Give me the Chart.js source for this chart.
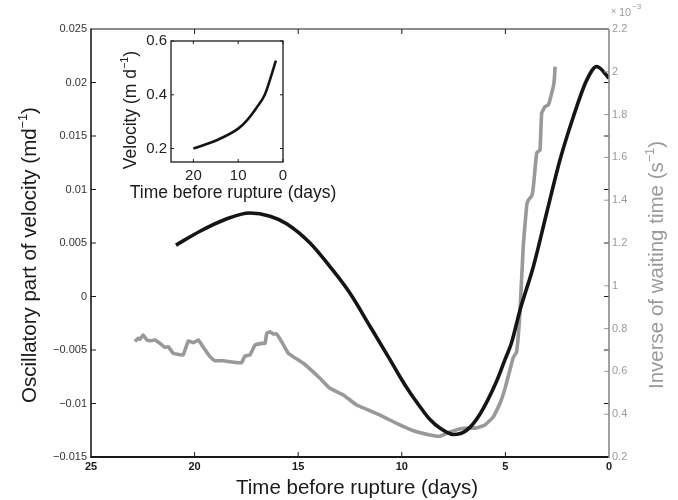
<!DOCTYPE html>
<html>
<head>
<meta charset="utf-8">
<script src="https://cdn.jsdelivr.net/npm/chart.js@4.4.1/dist/chart.umd.min.js"></script>
<style>
  html, body { margin: 0; padding: 0; background: #fff; }
  #wrap { position: relative; width: 678px; height: 500px; }
  #main { position: absolute; left: 0; top: 0; }
  #inset { position: absolute; left: 100px; top: 28px; }
</style>
</head>
<body>
<div id="wrap">
  <canvas id="main" width="678" height="500"></canvas>
  <canvas id="inset" width="250" height="182"></canvas>
</div>
<script>
// data (days before rupture, descending)
const blackDays = [20.9, 19.74, 18.53, 17.33, 16.36, 15.56, 14.43, 13.47, 12.5, 11.53, 10.57, 10.09, 9.6, 9.12, 8.64, 8.16, 7.51, 6.87, 6.23, 5.42, 5.02, 4.7, 4.3, 3.65, 3.01, 2.36, 1.72, 1.08, 0.59, 0.0];
const blackVals = [0.0048, 0.0061, 0.0072, 0.0078, 0.0075, 0.0068, 0.005, 0.0028, 0.0003, -0.0028, -0.0059, -0.0075, -0.009, -0.0103, -0.0115, -0.0123, -0.0129, -0.0125, -0.011, -0.0079, -0.0059, -0.0043, -0.0013, 0.0028, 0.0078, 0.0128, 0.0168, 0.0202, 0.0215, 0.0204];

// inverse of waiting time, x 10^-3 s^-1
const grayDays = [22.88, 22.72, 22.64, 22.48, 22.31, 22.15, 21.91, 21.67, 21.43, 21.27, 21.03, 20.7, 20.55, 20.3, 20.06, 19.82, 19.58, 19.26, 19.02, 18.61, 18.29, 17.97, 17.73, 17.57, 17.33, 17.08, 16.76, 16.6, 16.52, 16.36, 16.2, 16.04, 15.8, 15.48, 14.75, 13.95, 13.47, 12.82, 12.18, 11.05, 10.25, 9.44, 8.64, 8.16, 7.83, 7.51, 7.03, 6.39, 5.98, 5.58, 5.26, 5.02, 4.78, 4.62, 4.46, 4.3, 4.14, 3.97, 3.89, 3.73, 3.65, 3.49, 3.33, 3.25, 3.09, 2.93, 2.85, 2.69, 2.65, 2.6];
const grayVals = [0.74, 0.755, 0.75, 0.77, 0.747, 0.743, 0.747, 0.731, 0.713, 0.715, 0.685, 0.678, 0.677, 0.743, 0.734, 0.747, 0.713, 0.669, 0.65, 0.65, 0.645, 0.641, 0.641, 0.672, 0.677, 0.723, 0.731, 0.731, 0.778, 0.785, 0.775, 0.775, 0.739, 0.685, 0.638, 0.568, 0.521, 0.49, 0.443, 0.396, 0.357, 0.323, 0.303, 0.297, 0.311, 0.322, 0.334, 0.336, 0.35, 0.388, 0.451, 0.52, 0.607, 0.665, 0.69, 0.873, 1.183, 1.378, 1.4, 1.42, 1.463, 1.621, 1.635, 1.807, 1.837, 1.845, 1.868, 1.93, 1.95, 2.024];

// inset: velocity
const insetDays = [20, 14.8, 10, 8.1, 5.9, 4.07, 2.6, 1.6];
const insetVals = [0.2, 0.231, 0.274, 0.304, 0.352, 0.4, 0.472, 0.527];

const xTicks = [25, 20, 15, 10, 5, 0];
const leftTicks = [0.025, 0.02, 0.015, 0.01, 0.005, 0, -0.005, -0.01, -0.015];
const rightTicks = [2.2, 2, 1.8, 1.6, 1.4, 1.2, 1, 0.8, 0.6, 0.4, 0.2];
const insetXTicks = [20, 10, 0];
const insetYTicks = [0.2, 0.4, 0.6];

const FONT = "'Liberation Sans', Arial, Helvetica, sans-serif";
const GRAY = "#9a9a9a";
const INK = "#1a1a1a";

function pts(xs, ys) {
  return xs.map((x, i) => ({ x: x, y: ys[i] }));
}

function fmt(v) {
  const s = String(Number(Math.abs(v).toFixed(3)));
  return v < 0 ? "\u2212" + s : s;
}

// draw text made of normal and superscript parts, centred
function drawRich(ctx, parts, x, y, size, color, rotate) {
  ctx.save();
  ctx.translate(x, y);
  if (rotate) ctx.rotate(-Math.PI / 2);
  ctx.fillStyle = color;
  ctx.textBaseline = "alphabetic";
  let total = 0;
  parts.forEach(p => {
    ctx.font = (p.sup ? size * 0.62 : size) + "px " + FONT;
    p.w = ctx.measureText(p.t).width;
    total += p.w;
  });
  let cx = -total / 2;
  parts.forEach(p => {
    ctx.font = (p.sup ? size * 0.62 : size) + "px " + FONT;
    ctx.fillText(p.t, cx, p.sup ? size * 0.35 - size * 0.45 : size * 0.35);
    cx += p.w;
  });
  ctx.restore();
}

function line(ctx, x1, y1, x2, y2, color, w) {
  ctx.strokeStyle = color;
  ctx.lineWidth = w;
  ctx.beginPath();
  ctx.moveTo(x1, y1);
  ctx.lineTo(x2, y2);
  ctx.stroke();
}

// box, inward ticks and axis titles for the main chart
const mainDecor = {
  id: "mainDecor",
  afterDraw(chart) {
    const { ctx, chartArea: a, scales } = chart;
    ctx.save();
    xTicks.slice(1, -1).forEach(v => {
      const px = scales.x.getPixelForValue(v);
      line(ctx, px, a.bottom, px, a.bottom - 5, INK, 1);
      line(ctx, px, a.top, px, a.top + 5, INK, 1);
    });
    leftTicks.slice(1, -1).forEach(v => {
      const py = scales.y.getPixelForValue(v);
      line(ctx, a.left, py, a.left + 5, py, INK, 1);
      line(ctx, a.right, py, a.right - 5, py, INK, 1);
    });
    rightTicks.slice(1, -1).forEach(v => {
      const py = scales.y2.getPixelForValue(v);
      line(ctx, a.right, py, a.right - 5, py, GRAY, 1);
    });
    line(ctx, a.left, a.top, a.right, a.top, INK, 1.2);
    line(ctx, a.left, a.top - 0.6, a.left, a.bottom + 1, INK, 1.6);
    line(ctx, a.left, a.bottom, a.right, a.bottom, INK, 1.8);
    line(ctx, a.right, a.top, a.right, a.bottom + 1, "#8a8a8a", 1.6);

    drawRich(ctx, [{ t: "Time before rupture (days)" }], (a.left + a.right) / 2 + 7, 486.8, 20.5, INK, false);
    drawRich(ctx, [{ t: "Oscillatory part of velocity (md" }, { t: "\u22121", sup: true }, { t: ")" }], 29, 255, 20.5, INK, true);
    drawRich(ctx, [{ t: "Inverse of waiting time (s" }, { t: "\u22121", sup: true }, { t: ")" }], 656, 265, 20.5, GRAY, true);

    ctx.fillStyle = GRAY;
    ctx.textBaseline = "alphabetic";
    ctx.font = "9px " + FONT;
    ctx.fillText("\u00d7", 611, 14);
    ctx.font = "11px " + FONT;
    ctx.fillText("10", 619, 16);
    ctx.font = "8px " + FONT;
    ctx.fillText("\u22123", 632, 9);
    ctx.restore();
  }
};

const insetDecor = {
  id: "insetDecor",
  afterDraw(chart) {
    const { ctx, chartArea: a, scales } = chart;
    ctx.save();
    insetXTicks.forEach(v => {
      const px = scales.x.getPixelForValue(v);
      line(ctx, px, a.bottom, px, a.bottom - 3, INK, 1);
      line(ctx, px, a.top, px, a.top + 3, INK, 1);
    });
    insetYTicks.forEach(v => {
      const py = scales.y.getPixelForValue(v);
      line(ctx, a.left, py, a.left + 3, py, INK, 1);
      line(ctx, a.right, py, a.right - 3, py, INK, 1);
    });
    ctx.strokeStyle = INK;
    ctx.lineWidth = 1.3;
    ctx.strokeRect(a.left, a.top, a.right - a.left, a.bottom - a.top);
    drawRich(ctx, [{ t: "Time before rupture (days)" }], 133, 164, 17.5, INK, false);
    drawRich(ctx, [{ t: "Velocity (m d" }, { t: "\u22121", sup: true }, { t: ")" }], 30, 82, 17.5, INK, true);
    ctx.restore();
  }
};

new Chart(document.getElementById("main").getContext("2d"), {
  type: "line",
  data: {
    datasets: [
      {
        label: "Oscillatory part of velocity",
        data: pts(blackDays, blackVals),
        yAxisID: "y",
        borderColor: "#151515",
        borderWidth: 3.6,
        pointRadius: 0,
        cubicInterpolationMode: "monotone",
        fill: false
      },
      {
        label: "Inverse of waiting time",
        data: pts(grayDays, grayVals),
        yAxisID: "y2",
        borderColor: "#999999",
        borderWidth: 3.6,
        borderJoinStyle: "round",
        pointRadius: 0,
        tension: 0.1,
        fill: false
      }
    ]
  },
  options: {
    responsive: false,
    animation: false,
    devicePixelRatio: 1,
    layout: { padding: { top: 29, left: 0, right: 0, bottom: 0 } },
    plugins: { legend: { display: false }, tooltip: { enabled: false } },
    scales: {
      x: {
        type: "linear",
        reverse: true,
        min: 0,
        max: 25,
        grid: { display: false, drawTicks: false },
        border: { display: false },
        afterBuildTicks: s => { s.ticks = xTicks.map(v => ({ value: v })); },
        afterFit: s => { s.height = 43; },
        ticks: { color: INK, padding: 3, maxRotation: 0, font: { family: FONT, size: 11, weight: "bold" }, callback: v => String(v) }
      },
      y: {
        position: "left",
        min: -0.015,
        max: 0.025,
        grid: { display: false, drawTicks: false },
        border: { display: false },
        afterBuildTicks: s => { s.ticks = leftTicks.map(v => ({ value: v })); },
        afterFit: s => { s.width = 91; },
        ticks: { color: "#333", padding: 4, font: { family: FONT, size: 11 }, callback: v => fmt(v) }
      },
      y2: {
        position: "right",
        min: 0.2,
        max: 2.2,
        grid: { display: false, drawTicks: false },
        border: { display: false },
        afterBuildTicks: s => { s.ticks = rightTicks.map(v => ({ value: v })); },
        afterFit: s => { s.width = 69; },
        ticks: { color: GRAY, padding: 3, font: { family: FONT, size: 11 }, callback: v => String(Number(v.toFixed(1))) }
      }
    }
  },
  plugins: [mainDecor]
});

new Chart(document.getElementById("inset").getContext("2d"), {
  type: "line",
  data: {
    datasets: [{
      label: "Velocity",
      data: pts(insetDays, insetVals),
      borderColor: "#151515",
      borderWidth: 2.6,
      pointRadius: 0,
      cubicInterpolationMode: "monotone",
      fill: false
    }]
  },
  options: {
    responsive: false,
    animation: false,
    devicePixelRatio: 1,
    layout: { padding: { top: 10, right: 67, left: 0, bottom: 0 } },
    plugins: { legend: { display: false }, tooltip: { enabled: false } },
    scales: {
      x: {
        type: "linear",
        reverse: true,
        min: 0,
        max: 25,
        grid: { display: false, drawTicks: false },
        border: { display: false },
        afterBuildTicks: s => { s.ticks = insetXTicks.map(v => ({ value: v })); },
        afterFit: s => { s.height = 48; },
        ticks: { color: "#222", padding: 5, maxRotation: 0, font: { family: FONT, size: 15 }, callback: v => String(v) }
      },
      y: {
        min: 0.15,
        max: 0.6,
        grid: { display: false, drawTicks: false },
        border: { display: false },
        afterBuildTicks: s => { s.ticks = insetYTicks.map(v => ({ value: v })); },
        afterFit: s => { s.width = 71; },
        ticks: { color: "#222", padding: 4, font: { family: FONT, size: 15 }, callback: v => String(Number(v.toFixed(1))) }
      }
    }
  },
  plugins: [insetDecor]
});
</script>
</body>
</html>
